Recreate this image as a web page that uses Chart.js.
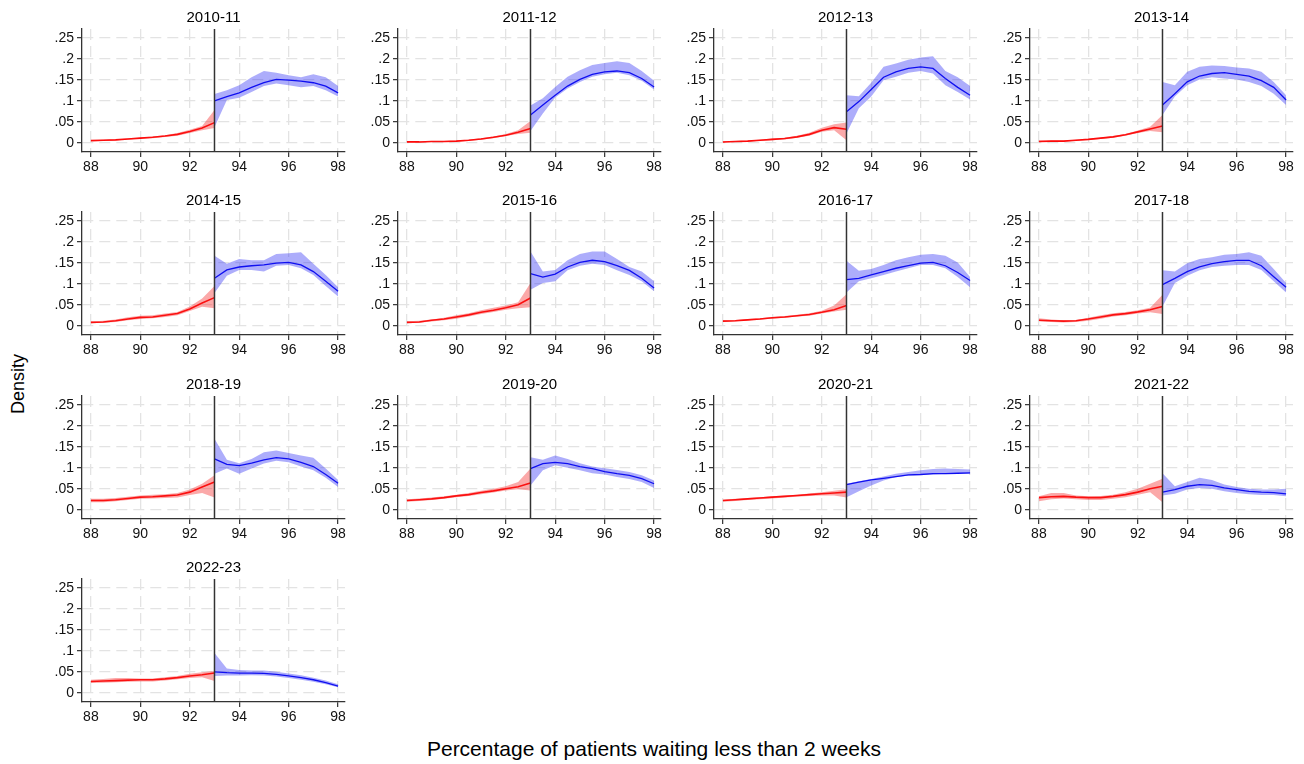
<!DOCTYPE html>
<html><head><meta charset="utf-8">
<script src="https://cdn.jsdelivr.net/npm/chart.js@4.4.1/dist/chart.umd.min.js"></script>
<style>
html,body{margin:0;padding:0;background:#fff;}
#wrap{position:relative;width:1304px;height:764px;overflow:hidden;background:#fff;}
#wrap canvas{position:absolute;}
.ttl{position:absolute;font-family:"Liberation Sans",Arial,sans-serif;color:#000;white-space:nowrap;}
#ytitle{left:18px;top:384px;font-size:18px;transform:translate(-50%,-50%) rotate(-90deg);}
#xtitle{left:654px;top:749px;font-size:21px;transform:translate(-50%,-50%);}
</style></head><body>
<div id="wrap">
<div class="ttl" id="ytitle">Density</div>
<div class="ttl" id="xtitle">Percentage of patients waiting less than 2 weeks</div>
</div>
<script>
// ---- data ----
const years = ["2010-11","2011-12","2012-13","2013-14","2014-15","2015-16","2016-17","2017-18","2018-19","2019-20","2020-21","2021-22","2022-23"];
const cutoff = 93;
const xLeft  = [88,88.5,89,89.5,90,90.5,91,91.5,92,92.5,93];
const xRight = [93,93.5,94,94.5,95,95.5,96,96.5,97,97.5,98];
const xTicks = [88,90,92,94,96,98];
const yTicks = [0,0.05,0.1,0.15,0.2,0.25];

const redMean = [
 [.005,.006,.007,.009,.011,.013,.016,.020,.027,.035,.048],
 [.002,.002,.003,.003,.004,.006,.009,.013,.018,.025,.034],
 [.002,.003,.004,.006,.008,.010,.014,.020,.030,.036,.032],
 [.003,.004,.004,.006,.008,.011,.014,.019,.026,.033,.040],
 [.008,.009,.012,.016,.020,.021,.025,.029,.040,.054,.067],
 [.008,.009,.013,.016,.021,.026,.032,.037,.043,.050,.066],
 [.011,.012,.014,.016,.019,.021,.024,.027,.032,.038,.048],
 [.013,.012,.011,.012,.016,.021,.026,.029,.033,.038,.046],
 [.022,.022,.024,.027,.030,.031,.033,.035,.042,.054,.066],
 [.022,.024,.026,.029,.033,.036,.041,.045,.050,.055,.064],
 [.022,.024,.026,.028,.030,.032,.034,.036,.038,.040,.042],
 [.029,.031,.032,.030,.029,.029,.032,.036,.042,.050,.056],
 [.027,.028,.029,.030,.031,.031,.033,.036,.040,.043,.047]
];
const redLow = [
 [.004,.005,.006,.008,.010,.011,.014,.017,.023,.030,.035],
 [.001,.001,.002,.002,.003,.005,.007,.011,.016,.021,.024],
 [.001,.002,.003,.005,.006,.008,.012,.017,.026,.030,.006],
 [.002,.003,.003,.005,.007,.009,.012,.017,.023,.028,.025],
 [.006,.007,.009,.013,.016,.018,.021,.025,.035,.045,.042],
 [.006,.007,.010,.013,.017,.022,.028,.033,.038,.042,.044],
 [.009,.011,.013,.015,.017,.019,.022,.024,.029,.034,.038],
 [.011,.009,.008,.009,.012,.017,.022,.025,.029,.032,.028],
 [.018,.018,.020,.023,.026,.027,.028,.029,.035,.040,.029],
 [.019,.021,.023,.026,.030,.033,.037,.041,.046,.049,.046],
 [.019,.021,.023,.025,.027,.029,.031,.033,.034,.034,.029],
 [.020,.025,.027,.025,.023,.023,.026,.030,.036,.042,.018],
 [.023,.024,.025,.026,.027,.027,.029,.032,.035,.037,.028]
];
const redHigh = [
 [.006,.007,.008,.010,.012,.015,.018,.023,.031,.040,.078],
 [.003,.003,.004,.004,.005,.007,.011,.015,.021,.030,.052],
 [.003,.004,.005,.007,.010,.012,.017,.024,.036,.044,.048],
 [.006,.005,.005,.007,.009,.012,.016,.021,.029,.038,.066],
 [.010,.012,.015,.020,.024,.025,.029,.033,.046,.065,.095],
 [.011,.012,.015,.019,.025,.030,.037,.043,.048,.056,.102],
 [.013,.014,.016,.018,.021,.023,.026,.030,.036,.048,.075],
 [.018,.015,.013,.014,.019,.025,.030,.033,.037,.043,.074],
 [.026,.026,.028,.031,.034,.036,.037,.040,.048,.062,.082],
 [.025,.027,.029,.032,.036,.040,.045,.050,.056,.066,.098],
 [.024,.026,.028,.030,.032,.034,.036,.039,.042,.045,.049],
 [.032,.040,.040,.034,.032,.033,.036,.042,.050,.062,.074],
 [.031,.033,.035,.035,.034,.034,.037,.040,.045,.049,.052]
];
const blueMean = [
 [.100,.110,.119,.132,.143,.151,.149,.147,.143,.135,.119],
 [.066,.090,.113,.135,.151,.163,.169,.171,.167,.153,.133],
 [.074,.098,.127,.156,.169,.177,.181,.177,.153,.132,.113],
 [.090,.117,.145,.159,.165,.167,.163,.159,.148,.132,.102],
 [.113,.133,.140,.143,.145,.149,.151,.145,.129,.106,.082],
 [.124,.116,.123,.140,.151,.156,.153,.143,.132,.113,.090],
 [.110,.113,.121,.129,.137,.143,.149,.151,.143,.127,.108],
 [.098,.113,.129,.140,.148,.153,.156,.156,.143,.117,.092],
 [.121,.108,.105,.111,.119,.124,.121,.113,.103,.084,.063],
 [.098,.110,.113,.110,.103,.098,.091,.086,.082,.074,.062],
 [.060,.066,.071,.075,.079,.083,.084,.086,.086,.087,.088],
 [.042,.048,.056,.060,.058,.052,.048,.044,.042,.041,.038],
 [.050,.048,.047,.047,.046,.044,.040,.036,.031,.024,.016]
];
const blueLow = [
 [.037,.102,.107,.121,.135,.141,.137,.132,.135,.125,.110],
 [.028,.070,.108,.129,.145,.157,.163,.167,.161,.148,.127],
 [.022,.082,.110,.149,.157,.167,.171,.165,.137,.121,.103],
 [.066,.110,.137,.151,.156,.153,.151,.145,.135,.117,.090],
 [.078,.119,.133,.133,.129,.143,.145,.137,.121,.095,.070],
 [.086,.102,.106,.132,.143,.148,.145,.132,.121,.106,.082],
 [.079,.106,.113,.121,.129,.137,.145,.145,.137,.116,.092],
 [.046,.102,.119,.132,.140,.143,.145,.145,.133,.106,.079],
 [.086,.098,.086,.098,.110,.117,.113,.103,.094,.076,.054],
 [.058,.094,.106,.100,.094,.087,.084,.078,.073,.066,.052],
 [.030,.044,.058,.070,.078,.081,.083,.084,.086,.086,.086],
 [.034,.038,.048,.052,.050,.044,.040,.037,.035,.035,.032],
 [.040,.041,.041,.042,.041,.039,.035,.031,.026,.020,.013]
];
const blueHigh = [
 [.116,.125,.137,.156,.171,.167,.161,.156,.163,.156,.135],
 [.089,.106,.133,.157,.173,.185,.190,.194,.190,.171,.148],
 [.113,.111,.143,.181,.189,.198,.203,.206,.171,.156,.135],
 [.145,.137,.169,.181,.184,.183,.179,.177,.169,.145,.113],
 [.167,.148,.159,.156,.156,.171,.173,.175,.148,.121,.092],
 [.177,.129,.133,.156,.171,.177,.177,.159,.140,.129,.106],
 [.155,.131,.135,.145,.156,.163,.169,.171,.167,.151,.116],
 [.132,.129,.149,.159,.163,.169,.171,.175,.167,.135,.102],
 [.169,.119,.111,.121,.137,.141,.135,.129,.124,.098,.071],
 [.125,.119,.129,.121,.111,.103,.099,.095,.090,.082,.070],
 [.062,.068,.073,.079,.086,.090,.094,.097,.098,.097,.096],
 [.087,.056,.066,.076,.071,.060,.054,.050,.048,.048,.050],
 [.095,.058,.054,.053,.053,.050,.046,.042,.036,.029,.020]
];

// ---- layout (not data) ----
const colAxisX = [82, 398, 714, 1030];
const rowPlotTop = [29, 212.3, 395.6, 579];
const yAxisW = 52, plotW = 263, plotH = 123, titleH = 24, xAxisH = 30, padR = 10;
const xMin = 87.64, xMax = 98.28, yMin = -0.022, yMax = 0.271;
const FONT = '"Liberation Sans", Arial, sans-serif';

Chart.defaults.font.family = FONT;

function pts(xs, ys){ return xs.map((x,i)=>({x:x, y:ys[i]})); }
function fmtY(v){ if (Math.abs(v) < 1e-9) return '0'; return String(+v.toFixed(2)).replace(/^0/, ''); }

const cutoffPlugin = {
  id: 'cutoffLine',
  afterDatasetsDraw(chart){
    const {ctx, chartArea, scales} = chart;
    const px = scales.x.getPixelForValue(cutoff);
    ctx.save();
    ctx.strokeStyle = '#333';
    ctx.lineWidth = 1.5;
    ctx.beginPath();
    ctx.moveTo(px, chartArea.top);
    ctx.lineTo(px, chartArea.bottom);
    ctx.stroke();
    ctx.restore();
  }
};

const wrap = document.getElementById('wrap');
const NONE = 'rgba(0,0,0,0)';

years.forEach((yr, k) => {
  const col = k % 4, row = Math.floor(k / 4);
  const cv = document.createElement('canvas');
  const W = yAxisW + plotW + padR, H = titleH + plotH + xAxisH;
  cv.width = W; cv.height = H;
  cv.style.width = W + 'px'; cv.style.height = H + 'px';
  cv.style.left = (colAxisX[col] - yAxisW) + 'px';
  cv.style.top = (rowPlotTop[row] - titleH) + 'px';
  wrap.appendChild(cv);

  const band = (xs, arr, color, fill) => ({
    data: pts(xs, arr), borderColor: NONE, borderWidth: 0, pointRadius: 0,
    tension: 0, fill: fill, backgroundColor: color
  });
  const line = (xs, arr, color, w) => ({
    data: pts(xs, arr), borderColor: color, borderWidth: w, pointRadius: 0,
    tension: 0, fill: false
  });

  new Chart(cv, {
    type: 'line',
    data: {
      datasets: [
        band(xLeft, redHigh[k], 'rgba(245,40,40,0.40)', '+1'),
        band(xLeft, redLow[k], NONE, false),
        line(xLeft, redMean[k], '#ff0000', 1.6),
        band(xRight, blueHigh[k], 'rgba(40,40,245,0.38)', '+1'),
        band(xRight, blueLow[k], NONE, false),
        line(xRight, blueMean[k], '#0000ee', 1.3)
      ]
    },
    options: {
      responsive: false,
      animation: false,
      devicePixelRatio: 1,
      layout: { padding: { top: 0, left: 0, bottom: 0, right: padR } },
      plugins: {
        legend: { display: false },
        tooltip: { enabled: false },
        title: {
          display: true, text: yr, fullSize: false, color: '#000',
          font: { size: 15, weight: 'normal', family: FONT, lineHeight: 1.2 },
          padding: { top: 4, bottom: 2 }
        }
      },
      scales: {
        x: {
          type: 'linear', min: xMin, max: xMax,
          afterBuildTicks: s => { s.ticks = xTicks.map(v => ({ value: v })); },
          afterFit: s => { s.height = xAxisH; },
          grid: { color: '#e3e3e3', lineWidth: 1.3, tickLength: 5, tickColor: '#333', tickWidth: 1.2 },
          border: { display: true, color: '#333', width: 1.3, dash: [11, 6] },
          ticks: { color: '#111', font: { size: 14 }, padding: 2, maxRotation: 0, autoSkip: false,
                   callback: v => String(v) }
        },
        y: {
          type: 'linear', min: yMin, max: yMax,
          afterBuildTicks: s => { s.ticks = yTicks.map(v => ({ value: v })); },
          afterFit: s => { s.width = yAxisW; },
          grid: { color: '#e3e3e3', lineWidth: 1.3, tickLength: 5, tickColor: '#333', tickWidth: 1.2 },
          border: { display: true, color: '#333', width: 1.3, dash: [11, 6] },
          ticks: { color: '#111', font: { size: 14 }, padding: 3, autoSkip: false,
                   callback: v => fmtY(v) }
        }
      }
    },
    plugins: [cutoffPlugin]
  });
});
</script>
</body></html>
